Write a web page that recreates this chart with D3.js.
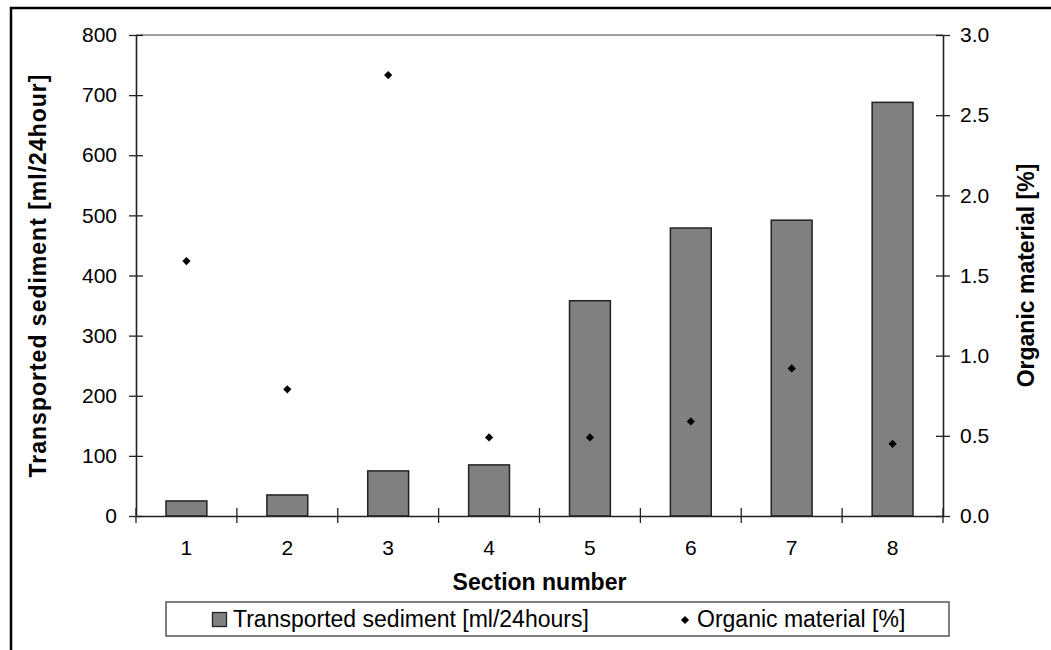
<!DOCTYPE html>
<html><head><meta charset="utf-8">
<script src="https://cdn.jsdelivr.net/npm/d3@7"></script>
<style>
html,body{margin:0;padding:0;background:#fff;}
svg{display:block;font-family:"Liberation Sans",Arial,sans-serif;}
</style></head>
<body>
<svg id="chart" width="1051" height="650"></svg>
<script>
const categories = ["1","2","3","4","5","6","7","8"];
const sediment = [25, 35, 75, 85, 358, 479, 492, 688];
const organic = [1.59, 0.79, 2.75, 0.49, 0.49, 0.59, 0.92, 0.45];
const leftTicks = [0,100,200,300,400,500,600,700,800];
const rightTicks = [0,0.5,1.0,1.5,2.0,2.5,3.0];
const leftTitle = "Transported sediment [ml/24hour]";
const rightTitle = "Organic material [%]";
const xTitle = "Section number";
const legendLabels = ["Transported sediment [ml/24hours]", "Organic material [%]"];

const svg = d3.select("#chart");
const L = 136, R = 943, T = 35, B = 516;
const FS = 21, FT = 23;

// outer border
svg.append("rect").attr("x",11).attr("y",8).attr("width",1100).attr("height",700)
  .attr("fill","none").attr("stroke","#000").attr("stroke-width",2.5);

const x = d3.scaleBand().domain(categories).range([L,R]).padding(0);
const yL = d3.scaleLinear().domain([0,800]).range([B,T]);
const yR = d3.scaleLinear().domain([0,3]).range([B,T]);

// plot area top border
svg.append("line").attr("x1",L).attr("x2",R).attr("y1",T).attr("y2",T)
  .attr("stroke","#808080").attr("stroke-width",1.5);

// bars
const bw = x.bandwidth()*0.405;
svg.append("g").selectAll("rect").data(sediment).join("rect")
  .attr("x",(d,i)=>x(categories[i])+x.bandwidth()/2-bw/2)
  .attr("y",d=>yL(d))
  .attr("width",bw)
  .attr("height",d=>B-yL(d))
  .attr("fill","#808080").attr("stroke","#222").attr("stroke-width",1.5);

// axes
function styleAxis(g){
  g.select(".domain").attr("stroke","#222").attr("stroke-width",1.6);
  g.selectAll(".tick line").attr("stroke","#222").attr("stroke-width",1.3);
  g.selectAll(".tick text").attr("font-size",FS).attr("font-family","Liberation Sans, Arial, sans-serif").attr("fill","#000");
}
const gL = svg.append("g").attr("transform",`translate(${L},0)`)
  .call(d3.axisLeft(yL).tickValues(leftTicks).tickFormat(d3.format("d")).tickSize(7).tickPadding(12).tickSizeOuter(0));
styleAxis(gL);
gL.selectAll(".tick line").attr("x1",7).attr("x2",-7);

const gR = svg.append("g").attr("transform",`translate(${R},0)`)
  .call(d3.axisRight(yR).tickValues(rightTicks).tickFormat(d3.format(".1f")).tickSize(7).tickPadding(10).tickSizeOuter(0));
styleAxis(gR);
gR.selectAll(".tick line").attr("x1",-7).attr("x2",7);

// bottom axis
const gB = svg.append("g").attr("transform",`translate(0,${B})`)
  .call(d3.axisBottom(x).tickSize(0).tickPadding(24).tickSizeOuter(0));
styleAxis(gB);
gB.selectAll(".tick text").attr("dy","0.71em");
const bounds = categories.map(c=>x(c)).concat([R]);
gB.selectAll("line.sep").data(bounds).join("line").attr("class","sep")
  .attr("x1",d=>d).attr("x2",d=>d).attr("y1",-8).attr("y2",7)
  .attr("stroke","#222").attr("stroke-width",1.3);

// points
const diamond = d3.symbol().type(d3.symbolSquare).size(34);
svg.append("g").selectAll("path").data(organic).join("path")
  .attr("d",diamond)
  .attr("transform",(d,i)=>`translate(${x(categories[i])+x.bandwidth()/2},${yR(d)}) rotate(45)`)
  .attr("fill","#000");

// titles
svg.append("text").attr("transform",`translate(46,${(T+B)/2}) rotate(-90)`)
  .attr("text-anchor","middle").attr("font-weight","bold").attr("font-size",FT)
  .attr("letter-spacing",1).text(leftTitle);
svg.append("text").attr("transform",`translate(1034,${(T+B)/2}) rotate(-90)`)
  .attr("text-anchor","middle").attr("font-weight","bold").attr("font-size",FT).text(rightTitle);
svg.append("text").attr("x",(L+R)/2).attr("y",590)
  .attr("text-anchor","middle").attr("font-weight","bold").attr("font-size",FT).text(xTitle);

// legend
const lg = svg.append("g");
lg.append("rect").attr("x",166).attr("y",602).attr("width",783).attr("height",34)
  .attr("fill","#fff").attr("stroke","#555").attr("stroke-width",1.5);
lg.append("rect").attr("x",212.5).attr("y",612.5).attr("width",14).attr("height",14)
  .attr("fill","#808080").attr("stroke","#222").attr("stroke-width",1.3);
lg.append("text").attr("x",233).attr("y",627).attr("font-size",FT).text(legendLabels[0]);
lg.append("path").attr("d",diamond).attr("transform","translate(685,620) rotate(45)").attr("fill","#000");
lg.append("text").attr("x",697).attr("y",627).attr("font-size",FT).text(legendLabels[1]);
</script>
</body></html>
